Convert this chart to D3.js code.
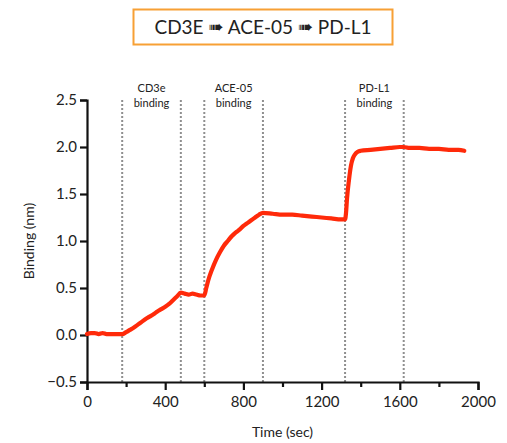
<!DOCTYPE html>
<html>
<head>
<meta charset="utf-8">
<script src="https://cdn.jsdelivr.net/npm/d3@7"></script>
<style>
  body { margin: 0; background: #fff; }
  svg text { font-family: Lato, "Open Sans", sans-serif; fill: #222; }
</style>
</head>
<body>
<svg id="chart" width="507" height="443"></svg>
<script>
// Sensorgram trace
const times = [0, 20, 40, 60, 80, 100, 120, 140, 160, 180,
  200, 220, 240, 260, 280, 300, 320, 340, 360, 380, 400, 420, 440, 460, 480,
  500, 520, 540, 560, 580, 600,
  610, 620, 640, 660, 680, 700, 720, 740, 760, 780, 800, 820, 840, 860, 880, 900,
  950, 1000, 1050, 1100, 1150, 1200, 1250, 1300, 1320,
  1325, 1330, 1340, 1350, 1360, 1370, 1385, 1400, 1450, 1500, 1550, 1600, 1620,
  1650, 1700, 1750, 1800, 1850, 1900, 1930];
const binding = [0.01, 0.02, 0.02, 0.01, 0.02, 0.01, 0.01, 0.01, 0.01, 0.01,
  0.03, 0.055, 0.08, 0.11, 0.14, 0.17, 0.195, 0.22, 0.25, 0.275, 0.30, 0.33, 0.37, 0.41, 0.45,
  0.44, 0.43, 0.44, 0.43, 0.42, 0.42,
  0.50, 0.58, 0.70, 0.80, 0.88, 0.95, 1.00, 1.05, 1.09, 1.12, 1.16, 1.19, 1.22, 1.25, 1.28, 1.30,
  1.29, 1.28, 1.28, 1.27, 1.26, 1.25, 1.24, 1.23, 1.23,
  1.30, 1.45, 1.65, 1.80, 1.88, 1.92, 1.95, 1.96, 1.97, 1.98, 1.99, 2.00, 2.00,
  1.99, 1.99, 1.98, 1.98, 1.97, 1.97, 1.96];

// Injection boundaries and labels
const phaseLines = [180, 480, 600, 900, 1320, 1620];
const phaseNames = ["CD3e", "ACE-05", "PD-L1"];

const yTicks = [-0.5, 0, 0.5, 1.0, 1.5, 2.0, 2.5];
const xTicks = [0, 400, 800, 1200, 1600, 2000];
const xMinorTicks = [200, 600, 1000, 1400, 1800];

const svg = d3.select("#chart");

const x = d3.scaleLinear().domain([0, 2000]).range([87, 478]);
const y = d3.scaleLinear().domain([-0.5, 2.5]).range([382, 100]);

// Title box
svg.append("rect")
    .attr("x", 133.5).attr("y", 9.5)
    .attr("width", 259).attr("height", 35)
    .attr("fill", "#fff")
    .attr("stroke", "#f7a035")
    .attr("stroke-width", 2);

svg.append("text")
    .attr("x", 263).attr("y", 34)
    .attr("text-anchor", "middle")
    .style("font-size", "19px")
    .html('CD3E <tspan dy="-1" style="font-family:DejaVu Sans;font-size:18px">➠</tspan><tspan dy="1"> ACE-05 </tspan><tspan dy="-1" style="font-family:DejaVu Sans;font-size:18px">➠</tspan><tspan dy="1"> PD-L1</tspan>');

// Dotted phase lines
svg.append("g").selectAll("line")
    .data(phaseLines)
    .join("line")
    .attr("x1", d => x(d)).attr("x2", d => x(d))
    .attr("y1", y(2.5)).attr("y2", y(-0.5))
    .attr("stroke", "#8f8f8f")
    .attr("stroke-width", 2)
    .attr("stroke-dasharray", "2,2");

// Phase labels
phaseNames.forEach((name, i) => {
    const cx = (x(phaseLines[i * 2]) + x(phaseLines[i * 2 + 1])) / 2;
    const t = svg.append("text")
        .attr("text-anchor", "middle")
        .style("font-size", "11px");
    t.append("tspan").attr("x", cx).attr("y", 92).text(name);
    t.append("tspan").attr("x", cx).attr("y", 107).text("binding");
});

// Axes
svg.append("g")
    .attr("transform", `translate(${x(0)},0)`)
    .call(d3.axisLeft(y).tickValues(yTicks).tickFormat(d3.format(".1f")).tickSize(7).tickPadding(3));

svg.append("g")
    .attr("transform", `translate(0,${y(-0.5)})`)
    .call(d3.axisBottom(x).tickValues(xTicks).tickFormat(d3.format("d")).tickSize(8).tickPadding(6));

svg.append("g")
    .attr("transform", `translate(0,${y(-0.5)})`)
    .call(d3.axisBottom(x).tickValues(xMinorTicks).tickFormat("").tickSize(5))
    .select(".domain").remove();

svg.selectAll(".domain").attr("stroke", "#111").attr("stroke-width", 2.2);
svg.selectAll(".tick line").attr("stroke", "#111").attr("stroke-width", 2.2);
svg.selectAll(".tick text").style("font-size", "15px").attr("fill", "#222");

// Axis titles
svg.append("text")
    .attr("transform", `translate(34,${(y(2.5) + y(-0.5)) / 2}) rotate(-90)`)
    .attr("text-anchor", "middle")
    .style("font-size", "14px")
    .text("Binding (nm)");

svg.append("text")
    .attr("x", (x(0) + x(2000)) / 2).attr("y", 437)
    .attr("text-anchor", "middle")
    .style("font-size", "14px")
    .text("Time (sec)");

// Binding trace
const line = d3.line()
    .x((d, i) => x(times[i]))
    .y(d => y(d))
    .curve(d3.curveMonotoneX);

svg.append("path")
    .datum(binding)
    .attr("d", line)
    .attr("fill", "none")
    .attr("stroke", "#ff2a0a")
    .attr("stroke-width", 4.2)
    .attr("stroke-linejoin", "round")
    .attr("stroke-linecap", "round");
</script>
</body>
</html>
